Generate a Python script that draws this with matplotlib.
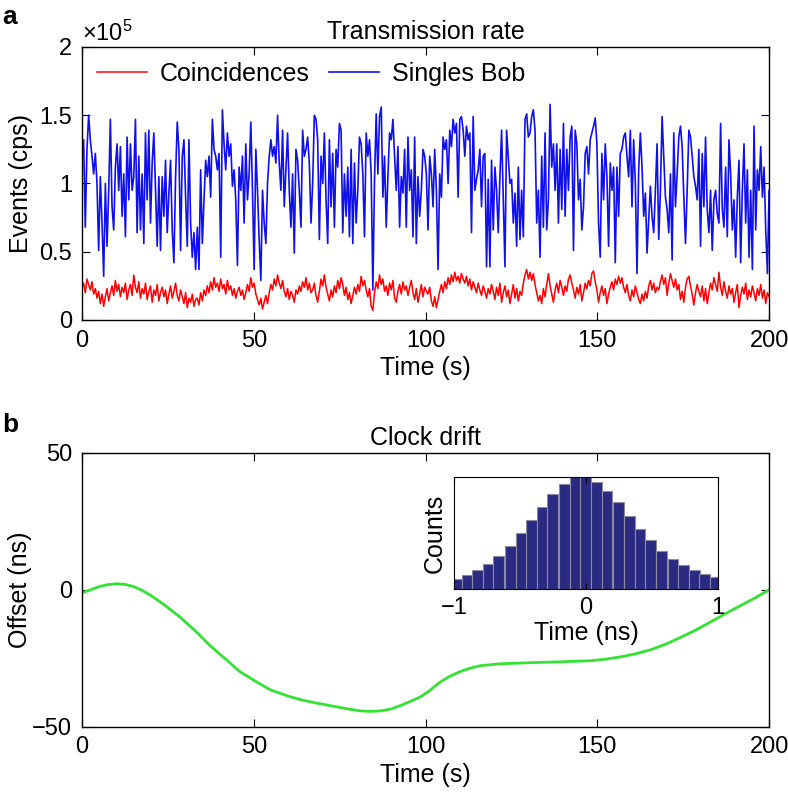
import numpy as np
import matplotlib
matplotlib.use("Agg")
from matplotlib import pyplot as plt

plt.rcParams['font.family'] = ['Liberation Sans', 'DejaVu Sans']
plt.rcParams['mathtext.fontset'] = 'custom'
plt.rcParams['mathtext.rm'] = 'Liberation Sans'
plt.rcParams['font.size'] = 18

# ---------------------------------------------------------------------------
# Data
# ---------------------------------------------------------------------------
# Singles Bob, in units of 1e5 cps, evenly spaced over 0..200 s
singles_bob = [
    1.30, 1.32, 0.68, 1.25, 1.50, 1.32, 1.20, 1.07, 1.22, 1.00, 0.51, 1.05, 0.71, 0.32, 1.00, 0.54, 0.95, 1.47,
    0.83, 0.66, 1.12, 1.29, 0.95, 1.27, 0.76, 1.07, 0.61, 1.34, 0.88, 1.29, 0.95, 1.05, 1.47, 0.64, 1.20, 0.66,
    1.07, 0.56, 1.37, 0.88, 1.39, 0.71, 1.15, 1.37, 0.95, 0.54, 1.05, 0.51, 1.05, 0.76, 1.17, 0.64, 0.93, 1.17,
    0.66, 0.42, 1.05, 1.45, 1.25, 0.51, 1.20, 1.32, 0.90, 0.54, 1.32, 0.71, 0.46, 0.64, 0.37,
    0.68, 0.37, 1.10, 0.56, 0.88, 1.17, 1.05, 1.20, 0.90, 1.47, 1.25, 1.20, 1.10, 1.22, 0.46, 1.54, 1.29, 1.10,
    1.37, 1.20, 1.29, 0.98, 1.10, 0.88, 0.40, 1.12, 0.95, 1.20, 0.71, 1.29, 0.88, 1.07, 1.45, 0.95, 0.37, 1.25,
    0.95, 0.59, 0.29, 0.95, 0.71, 0.56, 1.00, 1.20, 1.32, 1.20, 1.27, 1.15, 1.50, 1.15, 0.95, 1.39, 0.83, 1.10,
    1.37, 0.95, 0.68, 1.07, 0.49, 1.25, 1.17, 0.95, 0.68, 1.39, 1.20, 1.25, 1.34, 1.15, 0.71,
    1.00, 1.50, 1.47, 1.32, 0.59, 1.20, 1.00, 1.37, 0.88, 0.56, 1.32, 0.83, 1.22, 0.68, 1.25, 1.12, 1.44, 1.39,
    0.64, 1.07, 0.76, 1.12, 0.61, 1.25, 0.56, 1.15, 0.71, 0.95, 1.34, 1.29, 1.07, 0.61, 1.37, 1.20, 1.32, 1.07,
    0.22, 1.03, 1.51, 1.07, 1.49, 1.56, 0.90, 1.20, 0.68, 1.05, 1.37, 1.32, 1.47, 1.20, 0.95, 1.27, 0.68, 1.05,
    0.93, 1.25, 0.68, 1.34, 0.95, 1.10, 0.61, 1.34, 0.56, 1.05, 0.76, 0.95, 1.25, 1.20, 1.07,
    0.66, 1.20, 1.07, 0.83, 1.25, 0.95, 0.37, 1.07, 0.90, 1.34, 1.25, 1.32, 1.00, 1.39, 1.27, 1.47, 1.37, 1.44,
    0.90, 1.47, 1.49, 1.39, 1.20, 1.42, 1.32, 1.37, 0.64, 1.49, 0.95, 1.03, 1.10, 1.25, 0.83, 1.20, 1.22, 0.39,
    1.03, 0.39, 1.17, 0.66, 1.12, 0.95, 0.64, 1.05, 1.39, 0.88, 0.39, 1.39, 1.20, 1.00, 1.03, 0.71, 0.93, 0.54,
    1.12, 0.59, 0.95, 0.61, 1.47, 1.51, 1.34, 1.37, 1.49, 1.54, 1.39, 0.71, 0.95, 0.46, 1.20,
    0.68, 1.37, 0.66, 0.88, 1.58, 1.12, 1.29, 0.95, 1.29, 0.71, 1.25, 0.81, 1.44, 0.76, 1.25, 0.95, 1.34, 1.42,
    0.51, 1.39, 1.29, 0.88, 1.03, 0.66, 0.83, 1.22, 1.27, 1.07, 1.32, 1.37, 1.42, 1.48, 1.29, 0.71, 0.46, 1.22,
    0.88, 1.29, 1.05, 0.54, 1.15, 0.95, 1.12, 0.42, 1.12, 0.76, 1.22, 1.25, 1.34, 1.37, 1.20, 1.05, 1.39, 0.83,
    1.32, 1.00, 0.34, 1.10, 1.37, 1.12, 0.76, 0.93, 0.49, 0.73, 0.98, 0.76, 0.64, 0.95, 1.29,
    0.59, 0.95, 1.49, 1.20, 0.90, 0.81, 0.64, 1.07, 0.44, 1.37, 0.83, 1.07, 1.34, 1.42, 1.27, 0.90, 0.56, 0.95,
    1.39, 1.34, 1.20, 1.05, 0.98, 0.88, 1.25, 0.54, 1.22, 0.83, 1.34, 0.81, 0.64, 0.95, 0.51, 0.88, 0.95, 0.78,
    0.71, 1.44, 0.81, 0.68, 1.12, 0.61, 1.32, 1.07, 0.66, 0.88, 0.46, 0.90, 1.17, 0.42, 0.95, 1.29, 0.71, 1.10,
    0.46, 0.95, 0.37, 1.42, 0.66, 1.10, 0.95, 1.27, 0.90, 1.12, 0.66, 0.34, 0.95,
]

# Coincidences, in units of 1e5 cps, same time grid
coincidences = [
    0.24, 0.27, 0.20, 0.30, 0.26, 0.22, 0.28, 0.19, 0.23, 0.16, 0.21, 0.12, 0.19, 0.10, 0.17, 0.23, 0.14, 0.20,
    0.25, 0.18, 0.29, 0.21, 0.26, 0.17, 0.24, 0.20, 0.27, 0.15, 0.22, 0.26, 0.18, 0.33, 0.24, 0.20, 0.28, 0.16,
    0.23, 0.19, 0.27, 0.15, 0.21, 0.25, 0.13, 0.22, 0.18, 0.26, 0.14, 0.20, 0.24, 0.17, 0.22, 0.12, 0.19, 0.25,
    0.16, 0.21, 0.27, 0.18, 0.14, 0.22, 0.17, 0.12, 0.20, 0.09, 0.16, 0.13, 0.19, 0.10, 0.15,
    0.16, 0.11, 0.20, 0.14, 0.22, 0.18, 0.25, 0.20, 0.28, 0.22, 0.31, 0.24, 0.27, 0.21, 0.30, 0.23, 0.26, 0.19,
    0.29, 0.22, 0.25, 0.18, 0.23, 0.16, 0.21, 0.24, 0.18, 0.22, 0.15, 0.20, 0.26, 0.21, 0.31, 0.24, 0.27, 0.19,
    0.15, 0.11, 0.16, 0.08, 0.13, 0.18, 0.12, 0.20, 0.26, 0.22, 0.30, 0.25, 0.33, 0.27, 0.23, 0.29, 0.21, 0.17,
    0.23, 0.15, 0.21, 0.18, 0.13, 0.22, 0.19, 0.25, 0.21, 0.28, 0.24, 0.31, 0.22, 0.27, 0.20,
    0.22, 0.27, 0.18, 0.13, 0.21, 0.30, 0.25, 0.33, 0.24, 0.19, 0.14, 0.22, 0.17, 0.25, 0.20, 0.29, 0.23, 0.31,
    0.26, 0.18, 0.24, 0.15, 0.20, 0.12, 0.18, 0.24, 0.19, 0.26, 0.21, 0.32, 0.25, 0.29, 0.22, 0.17, 0.23, 0.10,
    0.07, 0.20, 0.28, 0.23, 0.33, 0.26, 0.30, 0.21, 0.25, 0.18, 0.27, 0.22, 0.29, 0.16, 0.13, 0.21, 0.26, 0.19,
    0.28, 0.22, 0.25, 0.18, 0.24, 0.29, 0.20, 0.15, 0.23, 0.13, 0.19, 0.26, 0.17, 0.24, 0.21,
    0.19, 0.24, 0.14, 0.10, 0.17, 0.09, 0.15, 0.21, 0.26, 0.20, 0.28, 0.23, 0.31, 0.26, 0.33, 0.28, 0.35, 0.29,
    0.32, 0.27, 0.34, 0.30, 0.27, 0.32, 0.25, 0.30, 0.22, 0.28, 0.24, 0.20, 0.27, 0.22, 0.18, 0.25, 0.21, 0.16,
    0.23, 0.19, 0.26, 0.21, 0.15, 0.24, 0.18, 0.27, 0.13, 0.20, 0.25, 0.17, 0.22, 0.12, 0.19, 0.26, 0.16, 0.23,
    0.14, 0.21, 0.18, 0.27, 0.33, 0.37, 0.30, 0.35, 0.29, 0.34, 0.26, 0.20, 0.14, 0.18, 0.12,
    0.23, 0.17, 0.26, 0.34, 0.25, 0.19, 0.13, 0.22, 0.27, 0.20, 0.29, 0.24, 0.18, 0.25, 0.21, 0.30, 0.33, 0.27,
    0.22, 0.16, 0.24, 0.19, 0.26, 0.14, 0.20, 0.27, 0.23, 0.29, 0.25, 0.34, 0.36, 0.28, 0.22, 0.13, 0.20, 0.25,
    0.18, 0.23, 0.12, 0.19, 0.24, 0.28, 0.22, 0.30, 0.26, 0.32, 0.27, 0.31, 0.24, 0.20, 0.26, 0.18, 0.14, 0.22,
    0.17, 0.25, 0.20, 0.15, 0.12, 0.19, 0.14, 0.21, 0.16, 0.25, 0.29, 0.22, 0.27, 0.20, 0.24,
    0.22, 0.28, 0.33, 0.26, 0.31, 0.18, 0.27, 0.34, 0.29, 0.24, 0.30, 0.22, 0.26, 0.15, 0.21, 0.13, 0.24, 0.30,
    0.32, 0.25, 0.19, 0.11, 0.20, 0.26, 0.21, 0.17, 0.25, 0.14, 0.23, 0.12, 0.20, 0.27, 0.22, 0.31, 0.26, 0.21,
    0.35, 0.24, 0.18, 0.28, 0.21, 0.16, 0.25, 0.19, 0.23, 0.13, 0.20, 0.26, 0.09, 0.18, 0.24, 0.19, 0.27, 0.15,
    0.22, 0.17, 0.25, 0.20, 0.14, 0.23, 0.18, 0.26, 0.16, 0.22, 0.12, 0.20, 0.17,
]

# Clock drift (ns) vs time (s)
drift_time = [0, 2.5, 5, 7.5, 10, 12.5, 15, 17.5, 20, 24, 28.5, 33, 37.3, 42, 46, 50, 54.8, 60, 63.6,
              68, 72.3, 77, 81, 84, 87, 90, 92.6, 95.5, 98.5, 101, 104, 107, 110, 113, 116, 121.8,
              130.5, 139, 148, 152, 156.7, 161, 165.5, 170, 174, 178.5, 183, 187, 191.6, 196, 200]
drift_offset = [-1.1, 0.0, 1.2, 1.9, 2.2, 2.0, 1.2, -0.2, -2.0, -5.5, -9.9, -15.0, -20.4, -25.5, -29.9,
                -33.0, -36.5, -38.8, -40.1, -41.3, -42.3, -43.4, -44.2, -44.4, -44.2, -43.5, -42.3, -40.8,
                -39.1, -37.0, -33.9, -31.6, -29.9, -28.6, -27.7, -27.0, -26.6, -26.3, -25.9, -25.4, -24.5,
                -23.4, -21.9, -19.8, -17.5, -14.8, -11.7, -8.9, -5.8, -2.9, 0.0]

# Inset histogram (arrival time difference)
hist_centers = [-0.98, -0.90, -0.82, -0.74, -0.66, -0.57, -0.49, -0.41, -0.33, -0.25, -0.16, -0.08, 0.0,
                0.08, 0.16, 0.25, 0.33, 0.41, 0.49, 0.57, 0.66, 0.74, 0.82, 0.90, 0.98]
hist_counts = [30, 41, 57, 74, 99, 129, 167, 205, 246, 283, 313, 338, 350, 320, 294, 259, 219, 180, 145,
               115, 91, 72, 58, 46, 36]

t_rate = np.linspace(0, 200, len(singles_bob))


def matlab_style(ax):
    ax.tick_params(direction='in', top=True, right=True, length=6, width=0.8, pad=7, labelsize=17)
    for s in ax.spines.values():
        s.set_linewidth(1.0)


fig = plt.figure(figsize=(7.88, 7.96), dpi=100)

# ---------------------------------------------------------------------------
# Panel a : transmission rate
# ---------------------------------------------------------------------------
ax1 = fig.add_axes([0.104, 0.598, 0.872, 0.343])
ax1.plot(t_rate, coincidences, color='#ff0000', lw=1.1, label='Coincidences')
ax1.plot(t_rate, singles_bob, color='#1010e8', lw=1.2, label='Singles Bob')
ax1.set_xlim(0, 200)
ax1.set_ylim(0, 2)
ax1.set_xticks([0, 50, 100, 150, 200])
ax1.set_yticks([0, 0.5, 1, 1.5, 2])
ax1.set_yticklabels(['0', '0.5', '1', '1.5', '2'])
ax1.set_xlabel('Time (s)', labelpad=3)
ax1.set_ylabel('Events (cps)', labelpad=5)
ax1.set_title('Transmission rate', fontsize=18, pad=6)
ax1.text(0.0, 1.005, r'$\mathregular{\times10^{5}}$', transform=ax1.transAxes,
         ha='left', va='bottom', fontsize=17)
ax1.legend(loc='upper left', ncol=2, frameon=False, handlelength=2.0, columnspacing=0.8,
           handletextpad=0.5, borderaxespad=0.2, fontsize=18)
matlab_style(ax1)
fig.text(0.003, 0.97, 'a', fontsize=19, fontweight='bold')

# ---------------------------------------------------------------------------
# Panel b : clock drift
# ---------------------------------------------------------------------------
ax2 = fig.add_axes([0.104, 0.087, 0.872, 0.344])
ax2.plot(drift_time, drift_offset, color='#33e233', lw=2.0)
ax2.set_xlim(0, 200)
ax2.set_ylim(-50, 50)
ax2.set_xticks([0, 50, 100, 150, 200])
ax2.set_yticks([-50, 0, 50])
ax2.set_xlabel('Time (s)', labelpad=3)
ax2.set_ylabel('Offset (ns)', labelpad=0)
ax2.set_title('Clock drift', fontsize=18, pad=6)
matlab_style(ax2)
fig.text(0.003, 0.457, 'b', fontsize=19, fontweight='bold')

# inset histogram
ax3 = fig.add_axes([0.576, 0.260, 0.335, 0.141])
ax3.bar(hist_centers, hist_counts, width=0.082, color='#2b2a82', edgecolor='#8a8aa0', linewidth=0.8)
ax3.set_xlim(-1, 1)
ax3.set_ylim(0, 335)
ax3.set_xticks([-1, 0, 1])
ax3.set_yticks([])
ax3.set_xlabel('Time (ns)', labelpad=1)
ax3.set_ylabel('Counts', labelpad=5)
ax3.tick_params(direction='in', top=True, length=4, pad=6, labelsize=17)

fig.savefig('out.png', dpi=100)
